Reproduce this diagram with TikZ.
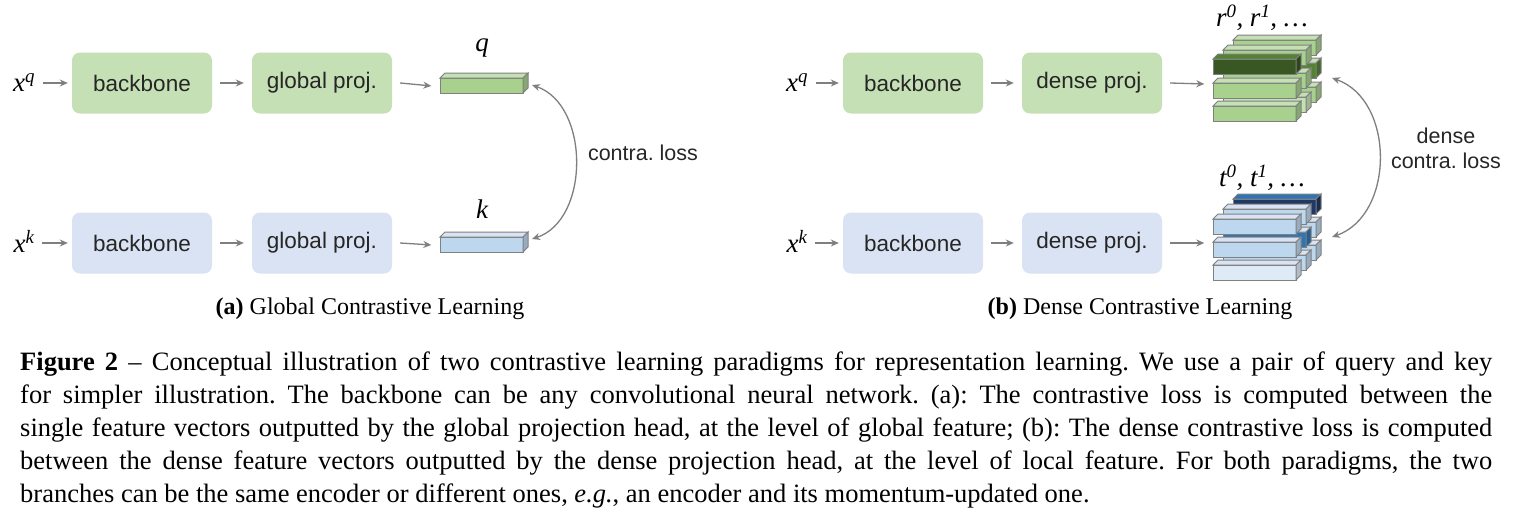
\documentclass[tikz,border=0pt]{standalone}
\usepackage{fontspec}
\setmainfont{Liberation Serif}
\newfontfamily\boxfont{Liberation Sans}
\usetikzlibrary{arrows.meta}
\frenchspacing
\definecolor{gbox}{HTML}{C5E0B4}
\definecolor{bbox}{HTML}{DAE3F3}
\definecolor{gbar}{HTML}{A9D18E}
\definecolor{gtop}{HTML}{C5E0B4}
\definecolor{gdark}{HTML}{385723}
\definecolor{gmid}{HTML}{548235}
\definecolor{bbar}{HTML}{BDD7EE}
\definecolor{btop}{HTML}{DAE3F3}
\definecolor{bdark}{HTML}{1F3864}
\definecolor{bmid}{HTML}{2E75B6}
\definecolor{blight}{HTML}{DEEBF7}
\definecolor{arr}{HTML}{7F7F7F}
\newcommand\fbar[5]{%
  \draw[draw=#5,line width=1pt,fill=#3] (#1,#2) rectangle (#1+83,#2+15);
  \draw[draw=#5,line width=1pt,fill=#4] (#1,#2) -- (#1+5,#2-5) -- (#1+88,#2-5) -- (#1+83,#2) -- cycle;
  \draw[draw=#5,line width=1pt,fill=#3!80!black] (#1+83,#2) -- (#1+88,#2-5) -- (#1+88,#2+10) -- (#1+83,#2+15) -- cycle;}
\tikzset{
  blk/.style={rounded corners=8pt,minimum width=140pt,minimum height=61pt,font=\boxfont\fontsize{22.5}{24}\selectfont,text=black!85},
  gblk/.style={blk,fill=gbox},
  bblk/.style={blk,fill=bbox},
  lab/.style={font=\fontsize{27}{30}\selectfont\itshape},
  ar/.style={draw=arr,line width=1.3pt,-{Stealth[length=8pt,width=7pt]}},
  dar/.style={draw=arr,line width=1.3pt,{Stealth[length=8pt,width=7pt]}-{Stealth[length=8pt,width=7pt]}},
  side/.style={font=\boxfont\fontsize{21.5}{25}\selectfont,text=black!85,align=center},
  sub/.style={font=\fontsize{24}{26}\selectfont}
}
\begin{document}
\begin{tikzpicture}[x=1pt,y=-1pt]
\useasboundingbox[fill=white] (0,0) rectangle (1519,522);
% ---------- (a)
\node[lab] (xq1) at (24,83) {x\textsuperscript{q}};
\node[gblk] (bb1) at (142,83) {backbone};
\node[gblk] (gp1) at (322,83) {global proj.};
\node[lab] (xk1) at (24,241) {x\textsuperscript{k}};
\node[bblk] (bb2) at (142,243) {backbone};
\node[bblk] (gp2) at (322,243) {global proj.};
\fbar{440}{78}{gbar}{gtop}{gray}
\fbar{440}{237}{bbar}{btop}{gray}
\node[inner sep=0] (q) at (432,86) {};
\node[inner sep=0] (k) at (432,245) {};
\node[lab] (ql) at (482,48) {q};
\node[lab] (kl) at (482,209) {k};
\draw[ar] ([xshift=4pt]xq1.east) -- ([xshift=-4pt]bb1.west);
\draw[ar] ([xshift=8pt]bb1.east) -- ([xshift=-8pt]gp1.west);
\draw[ar] ([xshift=8pt]gp1.east) -- (q);
\draw[ar] ([xshift=4pt,yshift=-2pt]xk1.east) -- ([xshift=-4pt]bb2.west);
\draw[ar] ([xshift=8pt]bb2.east) -- ([xshift=-8pt]gp2.west);
\draw[ar] ([xshift=8pt]gp2.east) -- (k);
\coordinate (c1) at (532,85);
\coordinate (c2) at (532,239);
\draw[dar] (c1) .. controls (590,105) and (590,220) .. (c2);
\node[side] (cl) at (643,153) {contra. loss};
\node[sub] (capa) at (370,309) {\textbf{(a)} Global Contrastive Learning};
% ---------- (b)
\node[lab] (xq2) at (797,83) {x\textsuperscript{q}};
\node[gblk] (bb3) at (913,83) {backbone};
\node[gblk] (dp1) at (1092,83) {dense proj.};
\node[lab] (xk2) at (797,241) {x\textsuperscript{k}};
\node[bblk] (bb4) at (913,243) {backbone};
\node[bblk] (dp2) at (1092,243) {dense proj.};
% top stack
\fbar{1233}{40}{gbar}{gtop}{gray}
\fbar{1233}{63}{gmid}{gtop}{gray}
\fbar{1233}{87}{gbar}{gtop}{gray}
\fbar{1223}{50}{gbar}{gtop}{gray}
\fbar{1223}{73}{gbar}{gtop}{gray}
\fbar{1223}{97}{gtop}{gtop}{gray}
\fbar{1213}{59}{gdark}{gmid}{gray}
\fbar{1213}{83}{gbar}{gtop}{gray}
\fbar{1213}{106}{gbar}{gtop}{gray}
% bottom stack
\fbar{1233}{199}{bdark}{bmid}{gray}
\fbar{1233}{222}{bbar}{btop}{gray}
\fbar{1233}{245}{bbar}{btop}{gray}
\fbar{1223}{209}{bbar}{btop}{gray}
\fbar{1223}{232}{bmid}{btop}{gray}
\fbar{1223}{255}{bbar}{btop}{gray}
\fbar{1213}{219}{bbar}{btop}{gray}
\fbar{1213}{242}{bbar}{btop}{gray}
\fbar{1213}{265}{blight}{btop}{gray}
\node[inner sep=0] (r) at (1205,84) {};
\node[inner sep=0] (t) at (1205,243) {};
\node[lab] (rl) at (1262,18) {r\textsuperscript{0}, r\textsuperscript{1}, \dots};
\node[lab] (tl) at (1262,178) {t\textsuperscript{0}, t\textsuperscript{1}, \dots};
\draw[ar] ([xshift=4pt]xq2.east) -- ([xshift=-4pt]bb3.west);
\draw[ar] ([xshift=8pt]bb3.east) -- ([xshift=-8pt]dp1.west);
\draw[ar] ([xshift=8pt]dp1.east) -- (r);
\draw[ar] ([xshift=4pt,yshift=-2pt]xk2.east) -- ([xshift=-4pt]bb4.west);
\draw[ar] ([xshift=8pt]bb4.east) -- ([xshift=-8pt]dp2.west);
\draw[ar] ([xshift=8pt]dp2.east) -- (t);
\coordinate (c3) at (1332,78);
\coordinate (c4) at (1332,237);
\draw[dar] (c3) .. controls (1395,100) and (1395,215) .. (c4);
\node[side] (dl) at (1446,148) {dense\\contra. loss};
\node[sub] (capb) at (1140,309) {\textbf{(b)} Dense Contrastive Learning};
% ---------- caption
\node[anchor=north west,inner sep=0,align=left,font=\fontsize{26.5}{33}\selectfont] (cap) at (20,352) {%
\makebox[1472pt][s]{\textbf{Figure 2} -- Conceptual illustration of two contrastive learning paradigms for representation learning. We use a pair of query and key}\\
\makebox[1472pt][s]{for simpler illustration. The backbone can be any convolutional neural network. (a): The contrastive loss is computed between the}\\
\makebox[1472pt][s]{single feature vectors outputted by the global projection head, at the level of global feature; (b): The dense contrastive loss is computed}\\
\makebox[1472pt][s]{between the dense feature vectors outputted by the dense projection head, at the level of local feature. For both paradigms, the two}\\
branches can be the same encoder or different ones, \textit{e.g.}, an encoder and its momentum-updated one.};
\end{tikzpicture}
\end{document}
